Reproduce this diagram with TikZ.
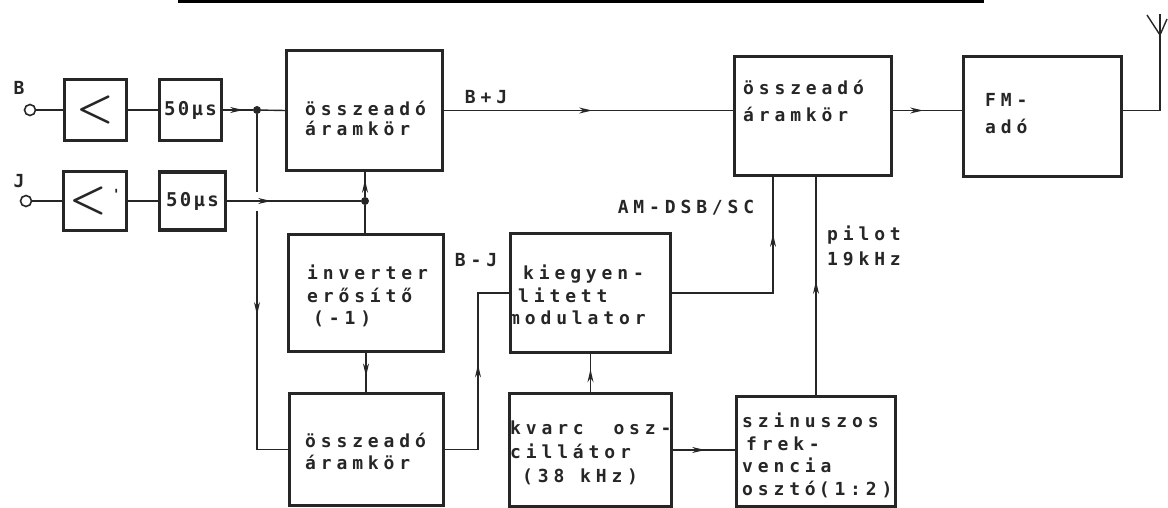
\documentclass[tikz,border=0pt]{standalone}
\usepackage{fontspec}
\newfontfamily\tw{DejaVu Sans Mono Bold}[LetterSpace=27]
\newfontfamily\twnarrow{DejaVu Sans Mono Bold}[LetterSpace=12]
\usetikzlibrary{arrows.meta,decorations.markings}
\definecolor{ink}{RGB}{38,38,38}
\newcommand{\boxfont}{\tw\fontsize{18}{22}\selectfont}

\begin{document}
\begin{tikzpicture}[x=1pt, y=-1pt,
		block/.style={draw=ink, line width=3.2pt, inner sep=0pt},
		wire/.style={draw=ink, line width=1.4pt},
		arrowat/.style={postaction={decorate}, decoration={markings, mark=at position #1 with {\arrow{Stealth[length=13pt,width=6pt]}}}},
		jdot/.style={circle, fill=ink, inner sep=0pt, minimum size=8pt},
		term/.style={circle, draw=ink, line width=1.6pt, inner sep=0pt, minimum size=11pt},
		boxtext/.style={font=\tw\fontsize{18}{#1}\selectfont, text=ink, align=left, inner sep=0pt, anchor=north west, execute at begin node={\rule{0pt}{14pt}}},
		boxtext/.default=22,
		sig/.style={font=\boxfont, text=ink, inner sep=0pt},
		amp/.style={font=\fontsize{42}{42}\selectfont\bfseries, text=ink},
		delay/.style={font=\twnarrow\fontsize{19}{19}\selectfont, text=ink},
	]
	\useasboundingbox (0,0) rectangle (1168,508);
	\fill[black] (178,0) rectangle (984,3.5);

	% inputs
	\node[term] (tB) at (30,110) {};
	\node[term] (tJ) at (26,201) {};
	\node[sig] (lblB) at (19,88) {B};
	\node[sig] (lblJ) at (19,181) {J};

	\node[block, amp, minimum width=62pt, minimum height=61pt] (ampB) at (95.5,110) {<};
	\node[block, delay, minimum width=62pt, minimum height=61pt] (desB) at (190.5,110) {50µs};
	\node[block, amp, minimum width=63pt, minimum height=59pt] (ampJ) at (95,201) {<\hspace{5pt}\raisebox{12pt}{\tw\fontsize{14}{14}\selectfont\char"27}};
	\node[block, delay, minimum width=66pt, minimum height=58pt] (desJ) at (192.5,201) {50µs};

	% blocks
	\node[block, minimum width=156pt, minimum height=120pt] (sumA) at (364.5,110.5) {};
	\node[block, minimum width=155pt, minimum height=117pt] (inv) at (366,293) {};
	\node[block, minimum width=154pt, minimum height=112pt] (sumC) at (366.5,449.5) {};
	\node[block, minimum width=160pt, minimum height=119pt] (mod) at (590.5,293) {};
	\node[block, minimum width=162pt, minimum height=113pt] (osc) at (590.5,450) {};
	\node[block, minimum width=159pt, minimum height=110pt] (div) at (816,451.5) {};
	\node[block, minimum width=157pt, minimum height=119pt] (sumB) at (813,116) {};
	\node[block, minimum width=158pt, minimum height=120pt] (fm) at (1042.5,116.5) {};

	\node[boxtext=20] (sumAtxt) at (305,101) {összeadó\\áramkör};
	\node[boxtext=22.5] (invtxt) at (307,265) {inverter\\erősítő\\\hspace*{6pt}(-1)};
	\node[boxtext] (sumCtxt) at (305,433) {összeadó\\áramkör};
	\node[boxtext=22.5] (modtxt) at (509,265) {\hspace*{14pt}kiegyen-\\\hspace*{9pt}litett\\modulator};
	\node[boxtext=24] (osctxt) at (510,421) {kvarc \hspace{14pt}osz-\\cillátor\\\hspace*{12pt}(38 kHz)};
	\node[boxtext=22.5] (divtxt) at (742,413) {szinuszos\\\hspace*{4pt}frek-\\vencia\\osztó\hspace{3pt}(1:2)};
	\node[boxtext=27] (sumBtxt) at (743,80) {összeadó\\áramkör};
	\node[boxtext=27] (fmtxt) at (985,93) {FM-\\adó};

	% signal labels
	\node[sig] (lblBpJ) at (486,97) {B+J};
	\node[sig] (lblBmJ) at (476,260) {B-J};
	\node[sig] (lblAM) at (686,208) {AM-DSB/SC};
	\node[boxtext=25] (lblpilot) at (827,226) {pilot\\19kHz};

	% junctions and corners
	\node[jdot] (dotB) at (257,110) {};
	\node[jdot] (dotJ) at (365,201) {};
	\coordinate (gapA) at (257,192);
	\coordinate (gapB) at (257,211);
	\coordinate (bcorner) at (257,449.5);
	\coordinate (bjlow) at (478,449.5);
	\coordinate (bjhigh) at (478,293);
	\coordinate (amturn) at (773,293);
	\coordinate (antfoot) at (1160,110.5);
	\coordinate (anttop) at (1160,35);

	% B channel
	\draw[wire] (tB) -- (ampB.west);
	\draw[wire] (ampB.east) -- (desB.west);
	\draw[wire, arrowat=20pt] (desB.east) -- (dotB);
	\draw[wire] (dotB) -- (sumA.west);
	\draw[wire] (dotB) -- (gapA);
	\draw[wire, arrowat=104pt] (gapB) -- (bcorner) -- (sumC.west);

	% J channel
	\draw[wire] (tJ) -- (ampJ.west);
	\draw[wire] (ampJ.east) -- (desJ.west);
	\draw[wire, arrowat=44pt] (desJ.east) -- (dotJ);
	\draw[wire, arrowat=17pt] (dotJ) -- (dotJ |- sumA.south);
	\draw[wire] (dotJ) -- (dotJ |- inv.north);
	\draw[wire, arrowat=0.6] (inv.south) -- (inv.south |- sumC.north);

	% B-J to modulator
	\draw[wire, arrowat=118pt] (sumC.east) -- (bjlow) -- (bjhigh) -- (mod.west);
	\draw[wire, arrowat=0.6] (osc.north) -- (osc.north |- mod.south);
	\draw[wire, arrowat=32pt] (osc.east) -- (osc.east -| div.west);

	% to the second adder
	\draw[wire, arrowat=148pt] (sumA.east) -- (sumA.east -| sumB.west);
	\draw[wire, arrowat=160pt] (mod.east) -- (amturn) -- (amturn |- sumB.south);
	\draw[wire, arrowat=114pt] (div.north) -- (div.north |- sumB.south);
	\draw[wire, arrowat=30pt] (sumA.east -| sumB.east) -- (sumA.east -| fm.west);

	% antenna
	\draw[wire] (sumA.east -| fm.east) -- (antfoot) -- (anttop);
	\draw[wire] (anttop) -- (1147,15);
	\draw[wire] (anttop) -- (1160,14);
	\draw[wire] (anttop) -- (1167,19);
\end{tikzpicture}
\end{document}
